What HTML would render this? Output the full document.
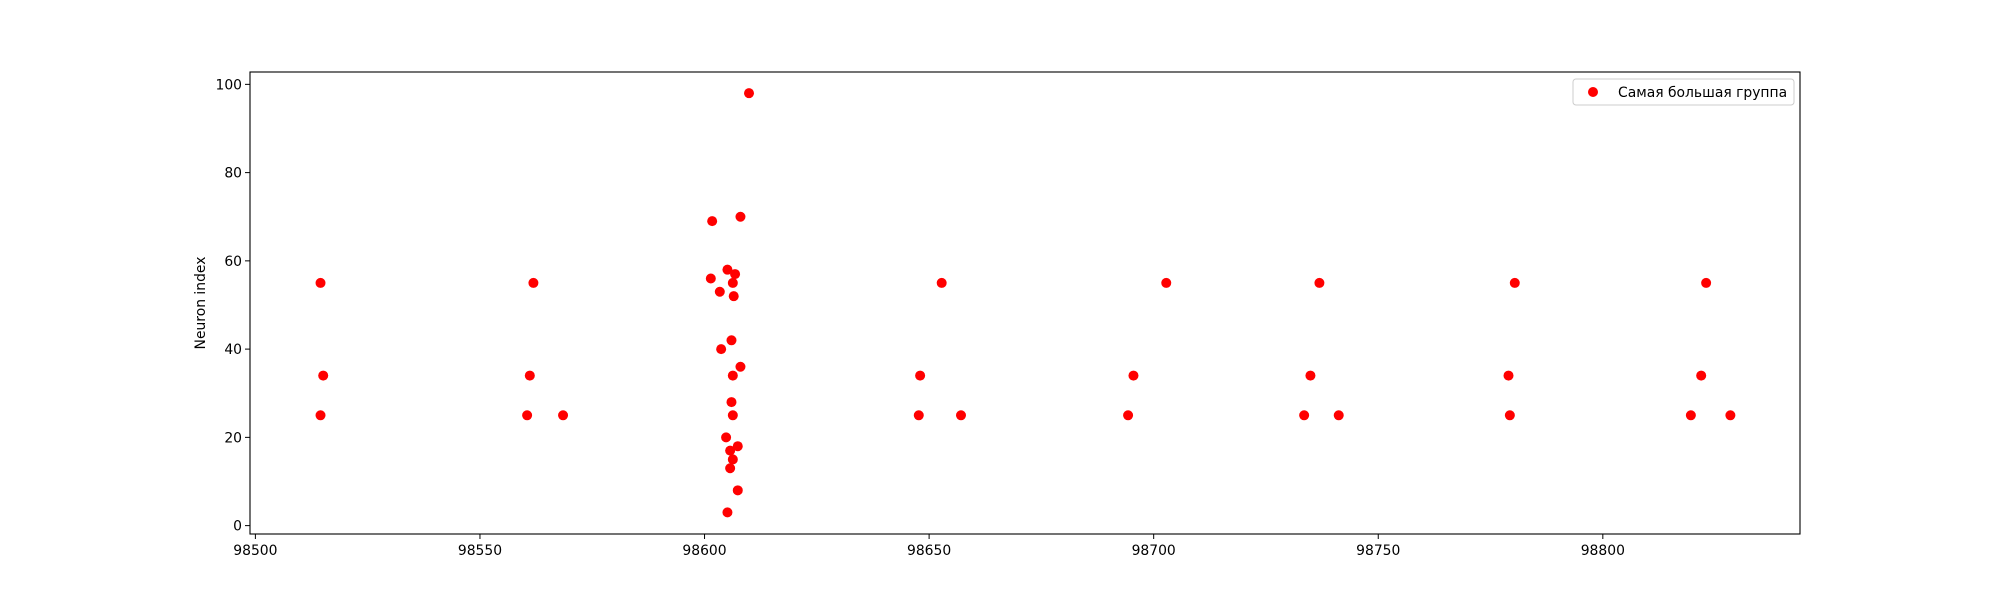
<!DOCTYPE html>
<html><head><meta charset="utf-8"><style>
html,body{margin:0;padding:0;background:#fff;}
svg{display:block;font-family:"DejaVu Sans","Liberation Sans",sans-serif;}
</style></head><body>
<svg id="chart" width="2000" height="600" viewBox="0 0 2000 600" xmlns="http://www.w3.org/2000/svg">
<rect x="0" y="0" width="2000" height="600" fill="#fff"/>
<g id="marks"></g>
<g id="axes"></g>
</svg>
<script>
const xValues = [98514.5,98515.1,98514.5,98561.9,98561.1,98560.5,98568.5,
98609.9,98608,98601.7,98601.4,98605.1,98606.8,98606.3,98603.4,98606.5,98606,98603.7,98608,98606.3,98606,98606.3,98604.8,98607.4,98605.7,98606.3,98605.7,98607.4,98605.1,
98652.8,98648,98647.7,98657.1,98702.8,98695.5,98694.3,98736.9,98734.9,98733.5,98741.2,98780.4,98779,98779.3,98823,98821.9,98819.6,98828.4];
const yValues = [55,34,25,55,34,25,25,
98,70,69,56,58,57,55,53,52,42,40,36,34,28,25,20,18,17,15,13,8,3,
55,34,25,25,55,34,25,55,34,25,25,55,34,25,55,34,25,25];
const xTicks = [98500,98550,98600,98650,98700,98750,98800];
const yTicks = [0,20,40,60,80,100];
const legendLabel = "Самая большая группа";
const yLabel = "Neuron index";

const NS = "http://www.w3.org/2000/svg";
const L=250,R=1800,T=72,B=534;
const xmin=98498.8,xmax=98843.9,ymin=-1.9,ymax=102.8;
const sx=v=>L+(v-xmin)/(xmax-xmin)*(R-L);
const sy=v=>B-(v-ymin)/(ymax-ymin)*(B-T);
function mk(tag,attrs,parent){const e=document.createElementNS(NS,tag);for(const k in attrs)e.setAttribute(k,attrs[k]);parent.appendChild(e);return e;}
const marks=document.getElementById('marks');
const axes=document.getElementById('axes');
xValues.forEach((xv,i)=>{
  const c=mk('circle',{cx:sx(xv),cy:sy(yValues[i]),r:5,fill:'#ff0000'},marks);
  
  
});
const frame=mk('rect',{x:L,y:T,width:R-L,height:B-T,fill:'none',stroke:'#000','stroke-width':1.1},axes);


xTicks.forEach(t=>{
  const x=sx(t);
  mk('line',{x1:x,y1:B,x2:x,y2:B+5,stroke:'#000','stroke-width':1},axes);
  const tx=mk('text',{x:x,y:B+21,'text-anchor':'middle','font-size':13.9,fill:'#000'},axes);
  tx.textContent=t;
  
  
});
yTicks.forEach(t=>{
  const y=sy(t);
  mk('line',{x1:L-5,y1:y,x2:L,y2:y,stroke:'#000','stroke-width':1},axes);
  const tx=mk('text',{x:L-8,y:y+5,'text-anchor':'end','font-size':13.9,fill:'#000'},axes);
  tx.textContent=t;
  
  
});
const yl=mk('text',{x:205,y:(T+B)/2,'text-anchor':'middle','font-size':13.9,fill:'#000',transform:`rotate(-90 205 ${(T+B)/2})`},axes);
yl.textContent=yLabel;


const lg=mk('g',{},axes);


mk('rect',{x:1573,y:79,width:221,height:26,rx:3,fill:'#fff',stroke:'#ccc','stroke-width':1},lg);
const lm=mk('circle',{cx:1593,cy:92,r:5,fill:'#ff0000'},lg);


const lt=mk('text',{x:1618,y:97,'font-size':13.9,fill:'#000'},lg);
lt.textContent=legendLabel;


</script>
</body></html>
